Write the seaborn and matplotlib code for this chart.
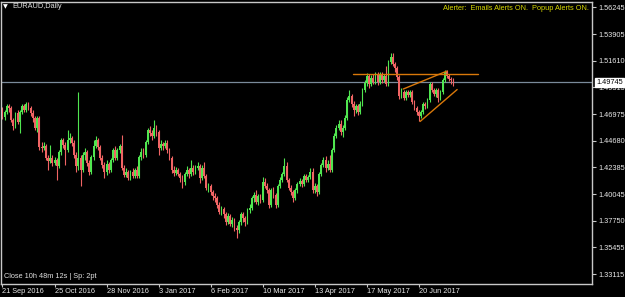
import matplotlib
matplotlib.use("Agg")
import matplotlib.pyplot as plt
import seaborn as sns
import numpy as np
import pandas as pd

# ---------------- data (EURAUD daily) ----------------
closes = [1.4674, 1.4717, 1.4769, 1.4752, 1.4648, 1.4596, 1.4708, 1.4630, 1.4717, 1.4769,
          1.4734, 1.4786, 1.4752, 1.4708, 1.4665, 1.4578, 1.4665, 1.4414, 1.4405, 1.4422,
          1.4318, 1.4292, 1.4318, 1.4275, 1.4301, 1.4249, 1.4370, 1.4474, 1.4431, 1.4388,
          1.4474, 1.4492, 1.4448, 1.4344, 1.4249, 1.4318, 1.4214, 1.4344, 1.4370, 1.4275,
          1.4197, 1.4327, 1.4422, 1.4474, 1.4414, 1.4318, 1.4258, 1.4197, 1.4266, 1.4214,
          1.4301, 1.4388, 1.4318, 1.4388, 1.4422, 1.4232, 1.4171, 1.4197, 1.4145, 1.4197,
          1.4162, 1.4214, 1.4162, 1.4327, 1.4370, 1.4344, 1.4457, 1.4561, 1.4535, 1.4509,
          1.4578, 1.4544, 1.4405, 1.4440, 1.4422, 1.4448, 1.4388, 1.4318, 1.4214, 1.4188,
          1.4214, 1.4180, 1.4145, 1.4110, 1.4180, 1.4214, 1.4180, 1.4232, 1.4197, 1.4232,
          1.4249, 1.4145, 1.4232, 1.4162, 1.4058, 1.4076, 1.4024, 1.3989, 1.3972, 1.3911,
          1.3850, 1.3876, 1.3833, 1.3763, 1.3815, 1.3746, 1.3781, 1.3711, 1.3694, 1.3763,
          1.3833, 1.3798, 1.3763, 1.3867, 1.3885, 1.3972, 1.3998, 1.3937, 1.3989, 1.3954,
          1.4110, 1.4076, 1.4041, 1.3911, 1.4041, 1.3998, 1.3911, 1.4076, 1.4128, 1.4180,
          1.4249, 1.4128, 1.4058, 1.4024, 1.3972, 1.4041, 1.4093, 1.4119, 1.4093, 1.4162,
          1.4128, 1.4154, 1.4197, 1.4041, 1.4076, 1.4024, 1.4180, 1.4258, 1.4301, 1.4232,
          1.4266, 1.4214, 1.4388, 1.4509, 1.4578, 1.4613, 1.4544, 1.4578, 1.4665, 1.4821,
          1.4856, 1.4786, 1.4734, 1.4769, 1.4717, 1.4786, 1.4908, 1.4968, 1.5029, 1.4960,
          1.5012, 1.4977, 1.5046, 1.4977, 1.5038, 1.4994, 1.5029, 1.4960, 1.5151, 1.5194,
          1.5133, 1.5098, 1.5020, 1.4856, 1.4890, 1.4838, 1.4890, 1.4864, 1.4890, 1.4804,
          1.4752, 1.4717, 1.4682, 1.4717, 1.4786, 1.4769, 1.4821, 1.4960, 1.4908, 1.4873,
          1.4908, 1.4838, 1.4890, 1.4994, 1.5064, 1.5029, 1.5003, 1.4994, 1.4975]

opens = [1.4734, 1.4674, 1.4717, 1.4769, 1.4752, 1.4648, 1.4596, 1.4708, 1.4630, 1.4717,
         1.4769, 1.4734, 1.4786, 1.4752, 1.4708, 1.4665, 1.4578, 1.4665, 1.4414, 1.4405,
         1.4422, 1.4318, 1.4292, 1.4318, 1.4275, 1.4301, 1.4249, 1.4370, 1.4474, 1.4431,
         1.4388, 1.4474, 1.4492, 1.4448, 1.4344, 1.4249, 1.4318, 1.4214, 1.4344, 1.4370,
         1.4275, 1.4197, 1.4327, 1.4422, 1.4474, 1.4414, 1.4318, 1.4258, 1.4197, 1.4266,
         1.4214, 1.4301, 1.4388, 1.4318, 1.4388, 1.4422, 1.4232, 1.4171, 1.4197, 1.4145,
         1.4197, 1.4162, 1.4214, 1.4162, 1.4327, 1.4370, 1.4344, 1.4457, 1.4561, 1.4535,
         1.4509, 1.4578, 1.4544, 1.4405, 1.4440, 1.4422, 1.4448, 1.4388, 1.4318, 1.4214,
         1.4188, 1.4214, 1.4180, 1.4145, 1.4110, 1.4180, 1.4214, 1.4180, 1.4232, 1.4197,
         1.4232, 1.4249, 1.4145, 1.4232, 1.4162, 1.4058, 1.4076, 1.4024, 1.3989, 1.3972,
         1.3911, 1.3850, 1.3876, 1.3833, 1.3763, 1.3815, 1.3746, 1.3781, 1.3711, 1.3694,
         1.3763, 1.3833, 1.3798, 1.3763, 1.3867, 1.3885, 1.3972, 1.3998, 1.3937, 1.3989,
         1.3954, 1.4110, 1.4076, 1.4041, 1.3911, 1.4041, 1.3998, 1.3911, 1.4076, 1.4128,
         1.4180, 1.4249, 1.4128, 1.4058, 1.4024, 1.3972, 1.4041, 1.4093, 1.4119, 1.4093,
         1.4162, 1.4128, 1.4154, 1.4197, 1.4041, 1.4076, 1.4024, 1.4180, 1.4258, 1.4301,
         1.4232, 1.4266, 1.4214, 1.4388, 1.4509, 1.4578, 1.4613, 1.4544, 1.4578, 1.4665,
         1.4821, 1.4856, 1.4786, 1.4734, 1.4769, 1.4717, 1.4786, 1.4908, 1.4968, 1.5029,
         1.4960, 1.5012, 1.4977, 1.5046, 1.4977, 1.5038, 1.4994, 1.5029, 1.4960, 1.5151,
         1.5194, 1.5133, 1.5098, 1.5020, 1.4856, 1.4890, 1.4838, 1.4890, 1.4864, 1.4890,
         1.4804, 1.4752, 1.4717, 1.4682, 1.4717, 1.4786, 1.4769, 1.4821, 1.4960, 1.4908,
         1.4873, 1.4908, 1.4838, 1.4890, 1.4994, 1.5064, 1.5029, 1.5003, 1.4994]

highs = [1.4760, 1.4734, 1.4786, 1.4786, 1.4769, 1.4665, 1.4717, 1.4734, 1.4734, 1.4786,
         1.4786, 1.4804, 1.4804, 1.4769, 1.4734, 1.4682, 1.4682, 1.4682, 1.4457, 1.4457,
         1.4440, 1.4344, 1.4431, 1.4344, 1.4327, 1.4318, 1.4388, 1.4492, 1.4492, 1.4457,
         1.4561, 1.4535, 1.4509, 1.4474, 1.4370, 1.4890, 1.4344, 1.4370, 1.4405, 1.4388,
         1.4301, 1.4344, 1.4474, 1.4509, 1.4492, 1.4431, 1.4344, 1.4284, 1.4301, 1.4284,
         1.4318, 1.4405, 1.4422, 1.4405, 1.4440, 1.4518, 1.4258, 1.4232, 1.4214, 1.4214,
         1.4232, 1.4232, 1.4249, 1.4344, 1.4405, 1.4405, 1.4474, 1.4578, 1.4596, 1.4561,
         1.4648, 1.4604, 1.4561, 1.4474, 1.4457, 1.4474, 1.4474, 1.4405, 1.4336, 1.4249,
         1.4240, 1.4232, 1.4197, 1.4171, 1.4197, 1.4249, 1.4232, 1.4301, 1.4258, 1.4258,
         1.4284, 1.4266, 1.4258, 1.4284, 1.4180, 1.4102, 1.4093, 1.4041, 1.4015, 1.3989,
         1.3937, 1.3902, 1.3893, 1.3850, 1.3841, 1.3833, 1.3807, 1.3798, 1.3737, 1.3781,
         1.3850, 1.3850, 1.3815, 1.3885, 1.3919, 1.3989, 1.4024, 1.4041, 1.4006, 1.4006,
         1.4154, 1.4145, 1.4102, 1.4058, 1.4058, 1.4067, 1.4015, 1.4093, 1.4154, 1.4197,
         1.4318, 1.4284, 1.4145, 1.4084, 1.4041, 1.4058, 1.4110, 1.4145, 1.4136, 1.4180,
         1.4180, 1.4171, 1.4232, 1.4232, 1.4102, 1.4093, 1.4197, 1.4275, 1.4327, 1.4336,
         1.4301, 1.4344, 1.4405, 1.4535, 1.4604, 1.4648, 1.4648, 1.4604, 1.4691, 1.4847,
         1.4908, 1.4873, 1.4812, 1.4786, 1.4786, 1.4812, 1.4925, 1.4994, 1.5055, 1.5046,
         1.5038, 1.5046, 1.5064, 1.5064, 1.5064, 1.5064, 1.5046, 1.5116, 1.5168, 1.5228,
         1.5228, 1.5151, 1.5116, 1.5038, 1.4925, 1.4908, 1.4908, 1.4908, 1.4908, 1.4908,
         1.4821, 1.4769, 1.4734, 1.4734, 1.4804, 1.4804, 1.4838, 1.4977, 1.4977, 1.4925,
         1.4925, 1.4925, 1.4908, 1.5012, 1.5081, 1.5081, 1.5046, 1.5020, 1.5012]

lows = [1.4656, 1.4648, 1.4700, 1.4717, 1.4630, 1.4561, 1.4578, 1.4613, 1.4535, 1.4700,
        1.4717, 1.4717, 1.4734, 1.4682, 1.4630, 1.4561, 1.4544, 1.4388, 1.4370, 1.4388,
        1.4301, 1.4214, 1.4275, 1.4249, 1.4258, 1.4128, 1.4232, 1.4344, 1.4405, 1.4258,
        1.4370, 1.4448, 1.4422, 1.4318, 1.4197, 1.4214, 1.4076, 1.4197, 1.4301, 1.4249,
        1.4171, 1.4180, 1.4301, 1.4405, 1.4388, 1.4301, 1.4232, 1.4145, 1.4171, 1.4188,
        1.4197, 1.4284, 1.4301, 1.4301, 1.4362, 1.4214, 1.4154, 1.4154, 1.4128, 1.4128,
        1.4145, 1.4145, 1.4145, 1.4145, 1.4301, 1.4318, 1.4327, 1.4440, 1.4509, 1.4474,
        1.4492, 1.4509, 1.4344, 1.4388, 1.4388, 1.4405, 1.4362, 1.4301, 1.4188, 1.4162,
        1.4171, 1.4162, 1.4110, 1.4058, 1.4084, 1.4162, 1.4145, 1.4162, 1.4171, 1.4180,
        1.4214, 1.4102, 1.4128, 1.4145, 1.4041, 1.4024, 1.3998, 1.3954, 1.3937, 1.3885,
        1.3833, 1.3824, 1.3798, 1.3737, 1.3746, 1.3729, 1.3720, 1.3685, 1.3625, 1.3668,
        1.3737, 1.3763, 1.3729, 1.3746, 1.3841, 1.3867, 1.3937, 1.3919, 1.3911, 1.3928,
        1.3937, 1.4058, 1.4015, 1.3885, 1.3893, 1.3972, 1.3885, 1.3893, 1.4058, 1.4110,
        1.4162, 1.4110, 1.4041, 1.3998, 1.3937, 1.3954, 1.4015, 1.4076, 1.4067, 1.4076,
        1.4110, 1.4110, 1.4136, 1.4015, 1.4015, 1.3989, 1.4006, 1.4162, 1.4240, 1.4197,
        1.4214, 1.4197, 1.4197, 1.4370, 1.4492, 1.4561, 1.4518, 1.4500, 1.4561, 1.4648,
        1.4804, 1.4760, 1.4682, 1.4708, 1.4691, 1.4700, 1.4769, 1.4890, 1.4942, 1.4925,
        1.4942, 1.4960, 1.4960, 1.4951, 1.4960, 1.4968, 1.4977, 1.4942, 1.4942, 1.5133,
        1.5116, 1.5064, 1.4994, 1.4830, 1.4838, 1.4821, 1.4821, 1.4847, 1.4847, 1.4786,
        1.4734, 1.4691, 1.4639, 1.4665, 1.4700, 1.4743, 1.4752, 1.4804, 1.4890, 1.4856,
        1.4847, 1.4804, 1.4821, 1.4873, 1.4977, 1.5012, 1.4986, 1.4960, 1.4942]

date_labels = ["21 Sep 2016", "25 Oct 2016", "28 Nov 2016", "3 Jan 2017", "6 Feb 2017",
               "10 Mar 2017", "13 Apr 2017", "17 May 2017", "20 Jun 2017"]
date_label_bars = [0, 24, 48, 72, 96, 120, 144, 168, 192]

price_ticks = [1.56245, 1.53905, 1.51610, 1.49315, 1.46975, 1.44680,
               1.42385, 1.40045, 1.37750, 1.35455, 1.33115]
current_price = 1.49745

# trendlines (bar index, price)
resistance_bars = [161.5, 219.5]
resistance_prices = [1.5044, 1.5044]
wedge_top_bars = [184.8, 205.0]
wedge_top_prices = [1.4916, 1.5072]
wedge_bot_bars = [192.6, 209.7]
wedge_bot_prices = [1.4635, 1.4912]

symbol_title = "EURAUD,Daily"
alert_text = "Alerter:  Emails Alerts ON.  Popup Alerts ON."
status_text = "Close 10h 48m 12s | Sp: 2pt"

# ---------------- style ----------------
sns.set_theme(style="dark", rc={
    "axes.facecolor": "black",
    "figure.facecolor": "black",
    "axes.edgecolor": "#c8c8c8",
    "axes.grid": False,
})
FONT = ["Liberation Sans", "DejaVu Sans"]
plt.rcParams["font.family"] = FONT
FS = 5.3

W, H = 625, 297
fig = plt.figure(figsize=(W / 100, H / 100), dpi=100)
ax_l, ax_r, ax_t, ax_b = 1.5, 592, 2, 284
ax = fig.add_axes([ax_l / W, 1 - ax_b / H, (ax_r - ax_l) / W, (ax_b - ax_t) / H])
ax.set_facecolor("black")

df = pd.DataFrame({"open": opens, "high": highs, "low": lows, "close": closes})
df["bar"] = np.arange(len(df))
up = df["close"] >= df["open"]
UP_C = "#50e650"
DN_C = "#f06464"
colors = np.where(up, UP_C, DN_C)

body = df["close"] - df["open"]
body = body.where(body.abs() > 0.0003, 0.0003 * np.where(up, 1, -1))

ax.vlines(df["bar"], df["low"], df["high"], colors=colors, linewidth=0.8, zorder=2)
ax.bar(df["bar"], body, bottom=df["open"], width=0.82, color=colors, linewidth=0, zorder=3)

# current price line
ax.axhline(current_price, color="#7a8a9a", linewidth=0.9, zorder=1)

# trendlines through seaborn
ORANGE = "#d9780a"
for bx, py in [(resistance_bars, resistance_prices), (wedge_top_bars, wedge_top_prices),
               (wedge_bot_bars, wedge_bot_prices)]:
    sns.lineplot(x=bx, y=py, ax=ax, color=ORANGE, linewidth=1.0, zorder=4, legend=False)

ax.set_xlim(-0.45, 271.9)
ax.set_ylim(1.3226, 1.5671)

# y ticks on right
ax.yaxis.tick_right()
ax.set_yticks(price_ticks)
ax.set_yticklabels([f"{v:.5f}" for v in price_ticks])
ax.tick_params(axis="y", which="both", right=True, left=False, direction="out",
               length=3, width=0.8, color="#c8c8c8", pad=1.5, labelsize=FS,
               labelcolor="#e8e8e8")

ax.set_xticks(date_label_bars)
ax.set_xticklabels(date_labels)
ax.tick_params(axis="x", which="both", bottom=True, direction="out", length=2.5, width=0.8,
               color="#c8c8c8", pad=0.5, labelsize=FS, labelcolor="#e8e8e8")
for lbl in ax.get_xticklabels():
    lbl.set_ha("left")

for s in ax.spines.values():
    s.set_color("#c8c8c8")
    s.set_linewidth(1.0)

ax.set_xlabel("")
ax.set_ylabel("")

# current price label box
ax.annotate(f"{current_price:.5f}", xy=(1.0, current_price), xycoords=("axes fraction", "data"),
            xytext=(3, 0), textcoords="offset points", ha="left", va="center",
            fontsize=FS, color="black",
            bbox=dict(boxstyle="square,pad=0.12", fc="white", ec="white"), zorder=10,
            annotation_clip=False)

# texts
fig.text(3 / W, 1 - 6.5 / H, "\u25BC", color="white", fontsize=4.5, va="center", ha="left",
         family=["DejaVu Sans"])
fig.text(12 / W, 1 - 6.5 / H, symbol_title, color="#e0e0e0", fontsize=FS, va="center", ha="left")
fig.text(589 / W, 1 - 8 / H, alert_text, color="#d8d800", fontsize=FS, va="center", ha="right")
fig.text(4 / W, 1 - 277 / H, status_text, color="#e0e0e0", fontsize=FS, va="center", ha="left")

fig.savefig("out.png", dpi=100, facecolor="black")
